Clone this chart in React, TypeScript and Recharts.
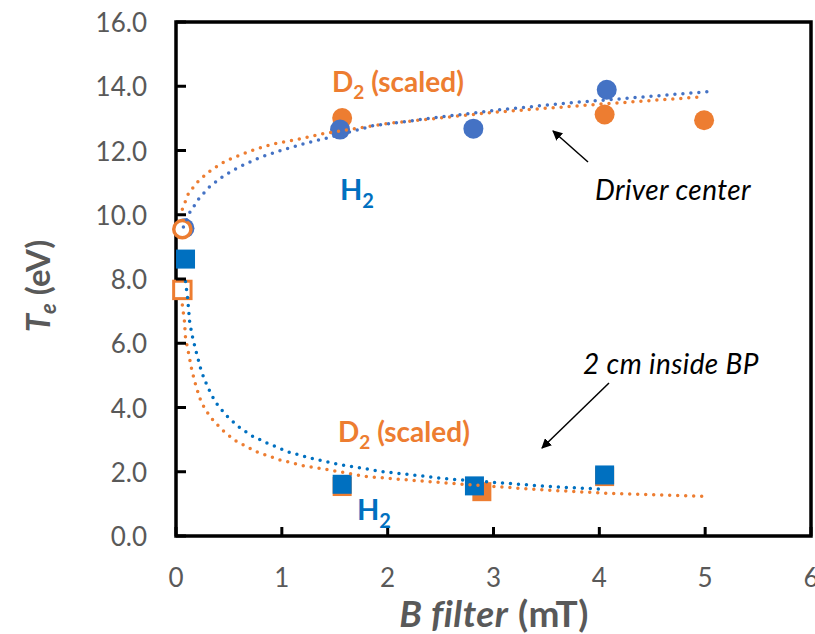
import { ScatterChart, Scatter, XAxis, YAxis, ReferenceArea } from 'recharts';

// measured points, B filter (mT) vs Te (eV)
const h2CenterB = [0.08, 1.55, 2.81, 4.07];
const h2CenterTe = [9.58, 12.65, 12.68, 13.89];
const d2CenterB = [1.57, 4.05, 4.99];
const d2CenterTe = [13.01, 13.12, 12.94];
const d2CenterOpenB = [0.06];
const d2CenterOpenTe = [9.55];

const h2BpB = [0.09, 1.57, 2.82, 4.05];
const h2BpTe = [8.62, 1.61, 1.56, 1.9];
const d2BpB = [1.57, 2.89, 4.05];
const d2BpTe = [1.54, 1.38, 1.85];
const d2BpOpenB = [0.06];
const d2BpOpenTe = [7.66];

// trendlines
const h2CenterTrendB = [0.07, 0.13, 0.22, 0.32, 0.45, 0.59, 0.79, 1.01, 1.24, 1.49, 1.86, 2.49, 3.12, 3.75, 4.39, 5.06];
const h2CenterTrendTe = [9.62, 10.07, 10.52, 10.88, 11.21, 11.48, 11.78, 12.02, 12.24, 12.44, 12.77, 13.04, 13.29, 13.49, 13.66, 13.84];
const d2CenterTrendB = [0.06, 0.12, 0.22, 0.34, 0.47, 0.69, 0.91, 1.14, 1.38, 2.0, 3.0, 4.0, 4.97];
const d2CenterTrendTe = [10.17, 10.68, 11.08, 11.41, 11.68, 11.97, 12.2, 12.34, 12.52, 12.84, 13.19, 13.44, 13.67];
const h2BpTrendB = [0.09, 0.11, 0.13, 0.16, 0.2, 0.24, 0.3, 0.37, 0.47, 0.58, 0.71, 0.86, 1.07, 1.3, 1.52, 1.96, 2.59, 3.53, 4.01];
const h2BpTrendTe = [7.92, 7.4, 6.63, 6.13, 5.61, 5.12, 4.63, 4.18, 3.77, 3.43, 3.13, 2.89, 2.61, 2.4, 2.24, 2.0, 1.77, 1.54, 1.46];
const d2BpTrendB = [0.06, 0.08, 0.09, 0.12, 0.15, 0.19, 0.24, 0.32, 0.43, 0.55, 0.76, 0.98, 1.2, 1.44, 1.8, 2.59, 3.44, 4.07, 5.03];
const d2BpTrendTe = [7.19, 6.68, 6.16, 5.67, 5.15, 4.65, 4.15, 3.72, 3.32, 2.99, 2.62, 2.37, 2.19, 2.06, 1.85, 1.64, 1.44, 1.33, 1.23];

const xTicks = [0, 1, 2, 3, 4, 5, 6];
const yTicks = [0, 2, 4, 6, 8, 10, 12, 14, 16];

const zip = (xs: number[], ys: number[]) => xs.map((x, i) => ({ x, y: ys[i] }));

const ORANGE = '#ED7D31';
const BLUE = '#4472C4';
const DARK_BLUE = '#0070C0';
const GREY = '#595959';
const FONT = 'Lato, "Open Sans", sans-serif';

const YTick = (props: any) => {
  const { x, y, payload } = props;
  return (
    <g>
      <line x1={x} x2={x + 10} y1={y} y2={y} stroke="#000" strokeWidth={3} />
      <text x={x - 29} y={y} textAnchor="end" dominantBaseline="central" fill={GREY} fontSize={26} fontFamily={FONT}>
        {payload.value.toFixed(1)}
      </text>
    </g>
  );
};

const XTick = (props: any) => {
  const { x, y, payload } = props;
  return (
    <g>
      <line x1={x} x2={x} y1={y} y2={y - 9} stroke="#000" strokeWidth={3} />
      <text x={x} y={y + 41} textAnchor="middle" dominantBaseline="central" fill={GREY} fontSize={26} fontFamily={FONT}>
        {payload.value}
      </text>
    </g>
  );
};

const dotted = (color: string) => ({
  stroke: color,
  strokeWidth: 3.5,
  strokeDasharray: '0 8',
  strokeLinecap: 'round' as const,
  fill: 'none',
});

const noShape = () => <g />;

export default function App() {
  return (
    <div style={{ position: 'absolute', left: 0, top: 0, width: 815, height: 634, background: '#fff' }}>
      <ScatterChart width={815} height={634} margin={{ top: 22, right: 4, left: 0, bottom: 0 }}>
        <XAxis
          type="number"
          dataKey="x"
          domain={[0, 6]}
          ticks={xTicks}
          height={98}
          axisLine={false}
          tickLine={false}
          tickSize={0}
          tickMargin={0}
          tick={<XTick />}
          interval={0}
        />
        <YAxis
          type="number"
          dataKey="y"
          domain={[0, 16]}
          ticks={yTicks}
          width={176}
          axisLine={false}
          tickLine={false}
          tickSize={0}
          tickMargin={0}
          tick={<YTick />}
          interval={0}
        />
        <ReferenceArea x1={0} x2={6} y1={0} y2={16} fill="none" stroke="#000" strokeWidth={3.5} />

        <Scatter data={zip(d2CenterB, d2CenterTe)} isAnimationActive={false}
          shape={(p: any) => <circle cx={p.cx} cy={p.cy} r={10} fill={ORANGE} />} />
        <Scatter data={zip(h2CenterB, h2CenterTe)} isAnimationActive={false}
          shape={(p: any) => <circle cx={p.cx} cy={p.cy} r={10} fill={BLUE} />} />
        <Scatter data={zip(d2CenterOpenB, d2CenterOpenTe)} isAnimationActive={false}
          shape={(p: any) => <circle cx={p.cx} cy={p.cy} r={8.6} fill="#fff" stroke={ORANGE} strokeWidth={3.5} />} />

        <Scatter data={zip(d2BpB, d2BpTe)} isAnimationActive={false}
          shape={(p: any) => <rect x={p.cx - 9.5} y={p.cy - 9.5} width={19} height={19} fill={ORANGE} />} />
        <Scatter data={zip(h2BpB, h2BpTe)} isAnimationActive={false}
          shape={(p: any) => <rect x={p.cx - 9.5} y={p.cy - 9.5} width={19} height={19} fill={DARK_BLUE} />} />
        <Scatter data={zip(d2BpOpenB, d2BpOpenTe)} isAnimationActive={false}
          shape={(p: any) => <rect x={p.cx - 8.7} y={p.cy - 8.7} width={17.4} height={17.4} fill="#fff" stroke={ORANGE} strokeWidth={3} />} />

        <Scatter data={zip(d2CenterTrendB, d2CenterTrendTe)} isAnimationActive={false}
          shape={noShape} line={dotted(ORANGE)} lineType="joint" />
        <Scatter data={zip(h2CenterTrendB, h2CenterTrendTe)} isAnimationActive={false}
          shape={noShape} line={dotted(BLUE)} lineType="joint" />
        <Scatter data={zip(d2BpTrendB, d2BpTrendTe)} isAnimationActive={false}
          shape={noShape} line={dotted(ORANGE)} lineType="joint" />
        <Scatter data={zip(h2BpTrendB, h2BpTrendTe)} isAnimationActive={false}
          shape={noShape} line={dotted(DARK_BLUE)} lineType="joint" />
      </ScatterChart>

      <svg width={815} height={634} style={{ position: 'absolute', left: 0, top: 0, pointerEvents: 'none' }}>
        <defs>
          <marker id="arrowHead" viewBox="0 0 10 10" refX="9" refY="5" markerWidth="10" markerHeight="10"
            markerUnits="userSpaceOnUse" orient="auto">
            <path d="M0,0 L10,5 L0,10 z" fill="#000" />
          </marker>
        </defs>
        <g fontFamily={FONT}>
          <text x={332} y={92} fill={ORANGE} fontSize={28} fontWeight="bold">
            D<tspan fontSize={19} dy={7}>2</tspan><tspan dy={-7}> (scaled)</tspan>
          </text>
          <text x={340} y={200} fill={DARK_BLUE} fontSize={29} fontWeight="bold">
            H<tspan fontSize={20} dy={8}>2</tspan>
          </text>
          <text x={338} y={442} fill={ORANGE} fontSize={28} fontWeight="bold">
            D<tspan fontSize={19} dy={7}>2</tspan><tspan dy={-7}> (scaled)</tspan>
          </text>
          <text x={357} y={520} fill={DARK_BLUE} fontSize={29} fontWeight="bold">
            H<tspan fontSize={20} dy={8}>2</tspan>
          </text>
          <text x={595} y={200} fill="#000" fontSize={28} fontStyle="italic" letterSpacing={0.4}>Driver center</text>
          <text x={583} y={374} fill="#000" fontSize={28} fontStyle="italic" letterSpacing={0.4}>2 cm inside BP</text>

          <line x1={588} y1={162} x2={553} y2={131} stroke="#000" strokeWidth={1.5} markerEnd="url(#arrowHead)" />
          <line x1={609} y1={383} x2={542} y2={448} stroke="#000" strokeWidth={1.5} markerEnd="url(#arrowHead)" />

          <text x={494} y={627} textAnchor="middle" fill={GREY} fontSize={37} fontWeight="bold" letterSpacing={0.5}>
            <tspan fontStyle="italic">B filter</tspan> (mT)
          </text>
          <text transform="rotate(-90, 50, 286)" x={50} y={286} textAnchor="middle" fill={GREY} fontSize={33} fontWeight="bold">
            <tspan fontStyle="italic">T</tspan><tspan fontStyle="italic" fontSize={22} dy={6}>e</tspan><tspan dy={-6}> (eV)</tspan>
          </text>
        </g>
      </svg>
    </div>
  );
}
